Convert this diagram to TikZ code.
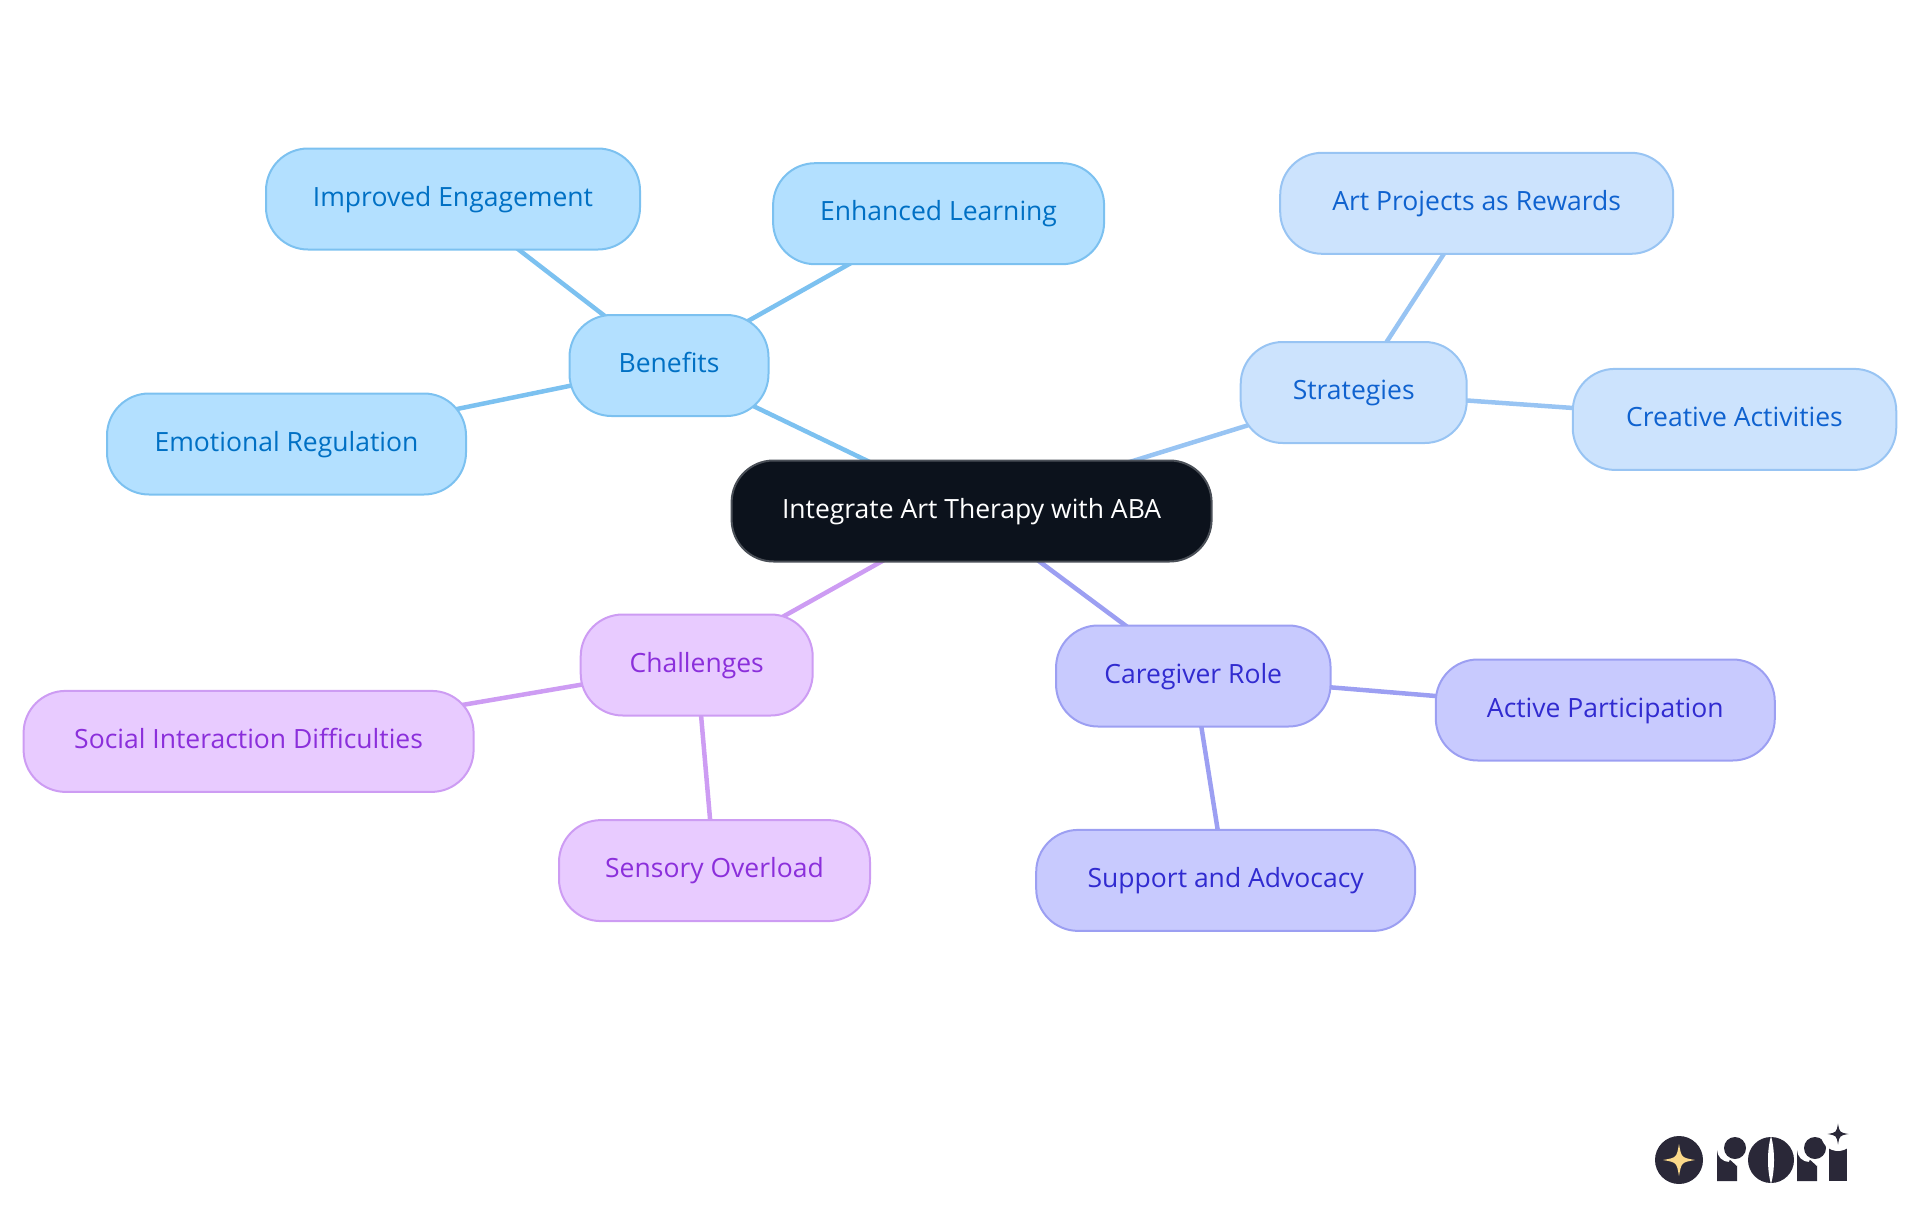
\documentclass[tikz,border=0pt]{standalone}
\usepackage{fontspec}
\setmainfont{Open Sans}
\usepackage{tikz}
\usetikzlibrary{backgrounds}
\definecolor{rootfill}{HTML}{0C121C}
\definecolor{rootline}{HTML}{4A4F57}
\definecolor{bluefill}{HTML}{B3E0FF}
\definecolor{blueline}{HTML}{7CC1F0}
\definecolor{bluetext}{HTML}{0070C4}
\definecolor{skyfill}{HTML}{CCE3FD}
\definecolor{skyline}{HTML}{98C4F3}
\definecolor{skytext}{HTML}{0F62CF}
\definecolor{indigofill}{HTML}{C8CAFE}
\definecolor{indigoline}{HTML}{9C9FF2}
\definecolor{indigotext}{HTML}{312BD0}
\definecolor{purplefill}{HTML}{E8CBFF}
\definecolor{purpleline}{HTML}{CD9CF3}
\definecolor{purpletext}{HTML}{8B2FDB}
\definecolor{logodark}{HTML}{2A2838}
\definecolor{logogold}{HTML}{FBD98A}
\tikzset{
  mapnode/.style={draw,line width=2pt,rounded corners=42pt,minimum height=101pt,inner sep=0pt,text height=21.4pt,text depth=7pt,font=\fontsize{26.5}{32}\selectfont},
  rootnode/.style={mapnode,fill=rootfill,draw=rootline,text=white},
  bluenode/.style={mapnode,fill=bluefill,draw=blueline,text=bluetext},
  skynode/.style={mapnode,fill=skyfill,draw=skyline,text=skytext},
  indigonode/.style={mapnode,fill=indigofill,draw=indigoline,text=indigotext},
  purplenode/.style={mapnode,fill=purplefill,draw=purpleline,text=purpletext},
  edge/.style={line width=4.5pt}
}
\newcommand{\sparkle}[4]{%
  \fill[#4] (#1-#3,#2) .. controls (#1-0.15*#3,#2-0.15*#3) .. (#1,#2-#3)
    .. controls (#1+0.15*#3,#2-0.15*#3) .. (#1+#3,#2)
    .. controls (#1+0.15*#3,#2+0.15*#3) .. (#1,#2+#3)
    .. controls (#1-0.15*#3,#2+0.15*#3) .. cycle;}
\newcommand{\logoletter}[1]{%
  \fill[logodark] (#1,1181) -- (#1,1150) arc (180:90:12) -- (#1+20,1138) -- (#1+20,1181) -- cycle;
  \fill[white] (#1+18,1148) circle (13);
  \fill[white] (#1+7,1154) -- (#1+20,1166) -- (#1+30,1150) -- cycle;
  \fill[logodark] (#1+18,1148) circle (11);}
\begin{document}
\begin{tikzpicture}[x=1pt,y=-1pt]
\useasboundingbox (0,0) rectangle (1920,1215);
% main branches
\node[rootnode,minimum width=480pt] (root) at (971.6,511) {Integrate Art Therapy with ABA};
\node[bluenode,minimum width=199pt] (benefits) at (669,365.5) {Benefits};
\node[skynode,minimum width=226pt] (strategies) at (1353.7,392.5) {Strategies};
\node[purplenode,minimum width=232pt] (challenges) at (696.7,665) {Challenges};
\node[indigonode,minimum width=274.5pt] (caregiver) at (1193.3,676) {Caregiver Role};
% leaves
\node[bluenode,minimum width=374pt] (engagement) at (453,199) {Improved Engagement};
\node[bluenode,minimum width=331pt] (learning) at (938.6,213.7) {Enhanced Learning};
\node[bluenode,minimum width=359pt] (regulation) at (286.5,444) {Emotional Regulation};
\node[skynode,minimum width=393pt] (rewards) at (1476.7,203.3) {Art Projects as Rewards};
\node[skynode,minimum width=323.5pt] (creative) at (1734.5,419.4) {Creative Activities};
\node[purplenode,minimum width=450pt] (social) at (248.6,741.4) {Social Interaction Difficulties};
\node[purplenode,minimum width=311pt] (sensory) at (714.5,870.6) {Sensory Overload};
\node[indigonode,minimum width=339pt] (active) at (1605.3,710) {Active Participation};
\node[indigonode,minimum width=379pt] (support) at (1225.7,880.4) {Support and Advocacy};
% edges
\begin{pgfonlayer}{background}
\draw[edge,blueline] (root.center) -- (benefits.center);
\draw[edge,blueline] (benefits.center) -- (engagement.center);
\draw[edge,blueline] (benefits.center) -- (learning.center);
\draw[edge,blueline] (benefits.center) -- (regulation.center);
\draw[edge,skyline] (root.center) -- (strategies.center);
\draw[edge,skyline] (strategies.center) -- (rewards.center);
\draw[edge,skyline] (strategies.center) -- (creative.center);
\draw[edge,purpleline] (root.center) -- (challenges.center);
\draw[edge,purpleline] (challenges.center) -- (social.center);
\draw[edge,purpleline] (challenges.center) -- (sensory.center);
\draw[edge,indigoline] (root.center) -- (caregiver.center);
\draw[edge,indigoline] (caregiver.center) -- (active.center);
\draw[edge,indigoline] (caregiver.center) -- (support.center);
\end{pgfonlayer}
% logo
\fill[logodark] (1679,1160) circle (24);
\sparkle{1679}{1160}{16}{logogold}
\logoletter{1717}
\fill[logodark] (1771,1160) circle (23);
\fill[white] (1771,1136) .. controls (1775,1150) and (1775,1170) .. (1771,1184) .. controls (1767,1170) and (1767,1150) .. (1771,1136) -- cycle;
\logoletter{1797}
\fill[logodark] (1829,1147) rectangle (1847,1181);
\fill[white] (1838,1134) circle (17);
\sparkle{1838}{1134}{10.5}{logodark}
\end{tikzpicture}
\end{document}
